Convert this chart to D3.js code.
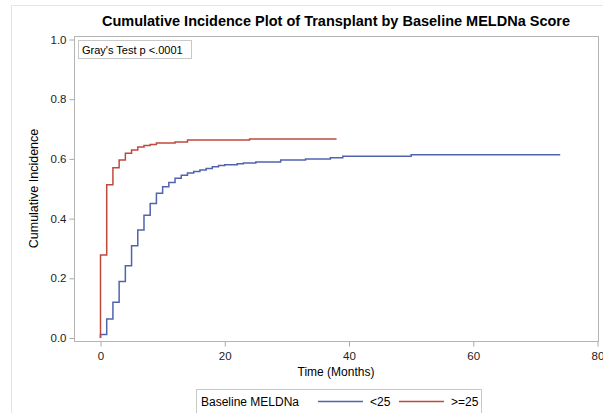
<!DOCTYPE html>
<html>
<head>
<meta charset="utf-8">
<script src="https://cdn.jsdelivr.net/npm/d3@7"></script>
<style>
  body { margin: 0; background: #fff; }
  text { font-family: "Liberation Sans", Arial, sans-serif; }
</style>
</head>
<body>
<div id="chart"></div>
<script>
// Data (time in months, cumulative incidence)
var timesLow  = [0, 0, 1, 2, 3, 4, 5, 6, 7, 8, 9, 10, 11, 12, 13, 14, 15, 16, 17, 18, 19, 20, 22, 23, 25, 29, 33, 37, 39, 50, 74];
var cifLow    = [0, 0.012, 0.064, 0.12, 0.189, 0.242, 0.309, 0.362, 0.411, 0.451, 0.485, 0.507, 0.521, 0.535, 0.545, 0.553, 0.558, 0.563, 0.568, 0.574, 0.578, 0.58, 0.584, 0.586, 0.59, 0.596, 0.6, 0.604, 0.609, 0.614, 0.614];
var timesHigh = [0, 0, 1, 2, 3, 4, 5, 6, 7, 8, 9, 12, 14, 24, 38];
var cifHigh   = [0, 0.278, 0.513, 0.57, 0.596, 0.619, 0.63, 0.64, 0.645, 0.648, 0.653, 0.657, 0.663, 0.667, 0.667];
var seriesNames = ["<25", ">=25"];
var seriesColors = ["#5064ad", "#c0493e"];
var xTicks = [0, 20, 40, 60, 80];
var yTicks = [0, 0.2, 0.4, 0.6, 0.8, 1.0];

var width = 603, height = 413;
var frame = {left: 74, right: 598, top: 36, bottom: 341};

var svg = d3.select("#chart").append("svg")
    .attr("width", width)
    .attr("height", height);

// outer border of the graph
svg.append("rect")
    .attr("x", 11.5).attr("y", 5.5)
    .attr("width", 620).attr("height", 430)
    .attr("fill", "none").attr("stroke", "#e4e4e4");

var xScale = d3.scaleLinear().domain([0, 80]).range([100.5, 597.5]);
var yScale = d3.scaleLinear().domain([0, 1]).range([338, 39.5]);

// title
svg.append("text")
    .attr("x", (frame.left + frame.right) / 2)
    .attr("y", 26)
    .attr("text-anchor", "middle")
    .style("font-size", "14.5px")
    .style("font-weight", "bold")
    .text("Cumulative Incidence Plot of Transplant by Baseline MELDNa Score");

// axes
var xAxis = d3.axisBottom(xScale).tickValues(xTicks).tickSize(5).tickPadding(5);
var yAxis = d3.axisLeft(yScale).tickValues(yTicks).tickSize(5).tickPadding(3)
    .tickFormat(d3.format(".1f"));

var gx = svg.append("g")
    .attr("transform", "translate(0," + (frame.bottom + 0.5) + ")")
    .call(xAxis);
var gy = svg.append("g")
    .attr("transform", "translate(" + (frame.left + 0.5) + ",0)")
    .call(yAxis);

[gx, gy].forEach(function(g) {
    g.select(".domain").remove();
    g.selectAll(".tick line").attr("stroke", "#a8a8a8");
    g.selectAll(".tick text")
        .attr("fill", "#222")
        .style("font-size", "11.5px")
        .style("font-family", "'Liberation Sans', Arial, sans-serif");
});

// data lines
var line = d3.line()
    .x(function(d) { return xScale(d[0]); })
    .y(function(d) { return yScale(d[1]); })
    .curve(d3.curveStepAfter);

var lowData = timesLow.map(function(t, i) { return [t, cifLow[i]]; });
var highData = timesHigh.map(function(t, i) { return [t, cifHigh[i]]; });

svg.append("path")
    .datum(lowData)
    .attr("d", line)
    .attr("fill", "none")
    .attr("stroke", seriesColors[0])
    .attr("stroke-width", 1.5);

svg.append("path")
    .datum(highData)
    .attr("d", line)
    .attr("fill", "none")
    .attr("stroke", seriesColors[1])
    .attr("stroke-width", 1.5);

// plot frame
svg.append("rect")
    .attr("x", frame.left + 0.5).attr("y", frame.top + 0.5)
    .attr("width", frame.right - frame.left).attr("height", frame.bottom - frame.top)
    .attr("fill", "none").attr("stroke", "#b4b4b4");

// inset test box
svg.append("rect")
    .attr("x", 78.5).attr("y", 40.5)
    .attr("width", 113).attr("height", 18)
    .attr("fill", "#fff").attr("stroke", "#c8c8c8");
svg.append("text")
    .attr("x", 82).attr("y", 53.5)
    .style("font-size", "11px")
    .text("Gray's Test p <.0001");

// axis labels
svg.append("text")
    .attr("x", (frame.left + frame.right) / 2)
    .attr("y", 376)
    .attr("text-anchor", "middle")
    .style("font-size", "12px")
    .text("Time (Months)");

svg.append("text")
    .attr("transform", "translate(38," + ((frame.top + frame.bottom) / 2) + ") rotate(-90)")
    .attr("text-anchor", "middle")
    .style("font-size", "12.5px")
    .text("Cumulative Incidence");

// legend
var legend = svg.append("g");
legend.append("rect")
    .attr("x", 196.5).attr("y", 389.5)
    .attr("width", 285).attr("height", 24)
    .attr("fill", "#fff").attr("stroke", "#c8c8c8");
legend.append("text")
    .attr("x", 201).attr("y", 405.5)
    .style("font-size", "12px")
    .text("Baseline MELDNa");

var legendItems = [{x: 318, name: seriesNames[0], color: seriesColors[0]},
                   {x: 399, name: seriesNames[1], color: seriesColors[1]}];
legendItems.forEach(function(it) {
    legend.append("line")
        .attr("x1", it.x).attr("x2", it.x + 45)
        .attr("y1", 401.5).attr("y2", 401.5)
        .attr("stroke", it.color).attr("stroke-width", 1.5);
    legend.append("text")
        .attr("x", it.x + 52).attr("y", 405.5)
        .style("font-size", "12px")
        .text(it.name);
});
</script>
</body>
</html>
